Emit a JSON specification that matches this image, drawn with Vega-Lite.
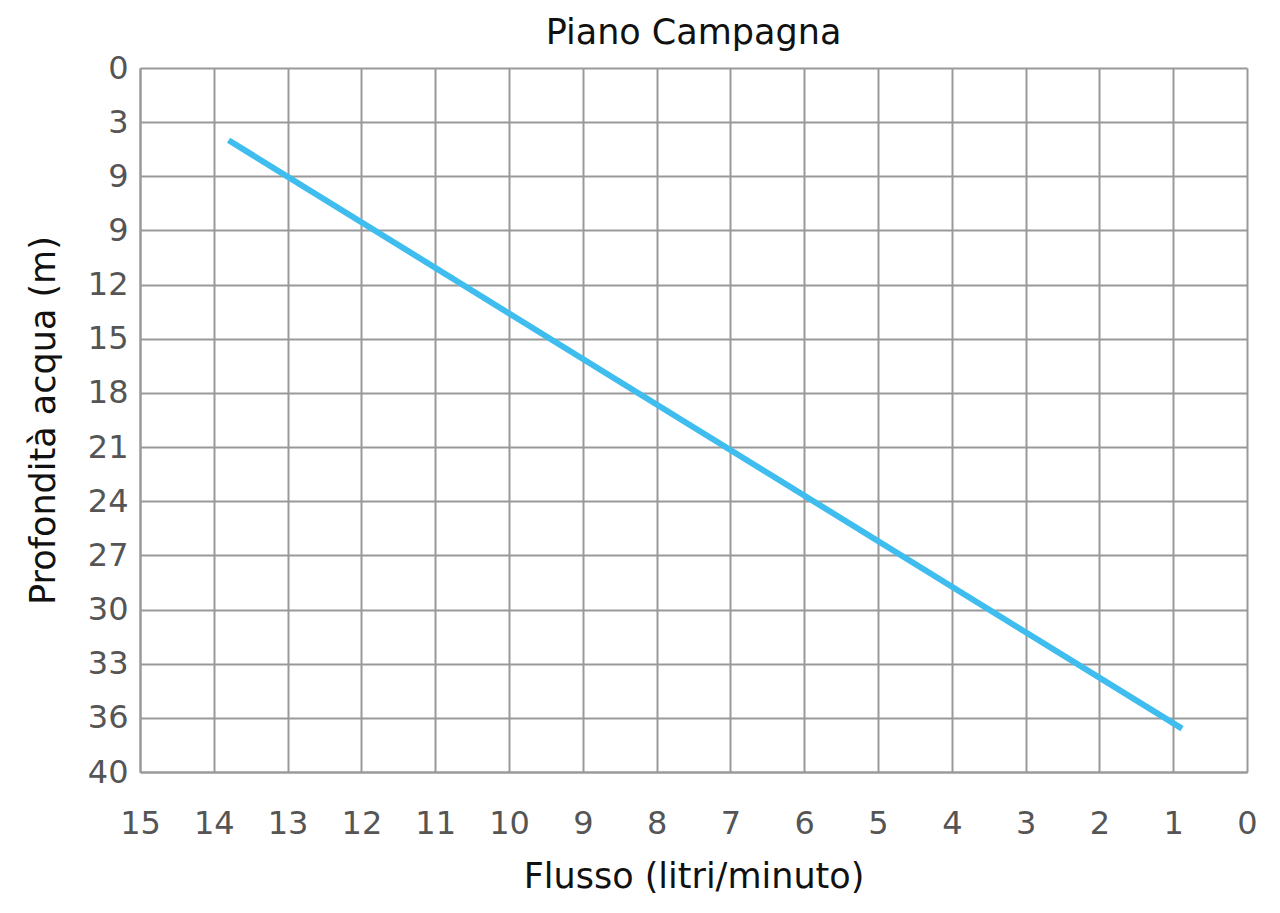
{
  "$schema": "https://vega.github.io/schema/vega-lite/v6.json",
  "autosize": {"type": "none"},
  "width": 1107,
  "height": 704,
  "padding": {"left": 140, "top": 68, "right": 33, "bottom": 141},
  "background": "white",
  "title": {
    "text": "Piano Campagna",
    "font": "DejaVu Sans",
    "fontSize": 35,
    "fontWeight": "normal",
    "color": "#111111",
    "offset": 1,
    "anchor": "middle"
  },
  "config": {
    "view": {"stroke": null},
    "axis": {
      "gridColor": "#999999",
      "gridWidth": 2,
      "gridOpacity": 1,
      "domainColor": "#999999",
      "domainWidth": 2,
      "ticks": false,
      "labelFlush": false,
      "labelOverlap": false,
      "labelFont": "DejaVu Sans",
      "labelFontSize": 32,
      "labelColor": "#555555",
      "titleFont": "DejaVu Sans",
      "titleFontSize": 35,
      "titleFontWeight": "normal",
      "titleColor": "#111111"
    }
  },
  "data": {
    "values": [
      {"flusso": 13.8, "profondita": 4.0},
      {"flusso": 0.88, "profondita": 36.6}
    ]
  },
  "mark": {"type": "line", "color": "#3FBDEE", "strokeWidth": 6, "strokeCap": "butt"},
  "encoding": {
    "x": {
      "field": "flusso",
      "type": "quantitative",
      "scale": {"domain": [0, 15], "reverse": true, "nice": false},
      "axis": {
        "title": "Flusso (litri/minuto)",
        "values": [0, 1, 2, 3, 4, 5, 6, 7, 8, 9, 10, 11, 12, 13, 14, 15],
        "labelPadding": 36,
        "titlePadding": 20
      }
    },
    "y": {
      "field": "profondita",
      "type": "quantitative",
      "scale": {"domain": [0, 39], "reverse": true, "nice": false},
      "axis": {
        "title": "Profondità acqua (m)",
        "values": [0, 3, 6, 9, 12, 15, 18, 21, 24, 27, 30, 33, 36, 39],
        "labelExpr": "datum.value == 6 ? '9' : datum.value == 39 ? '40' : datum.label",
        "labelPadding": 12,
        "titlePadding": 26
      }
    }
  }
}
